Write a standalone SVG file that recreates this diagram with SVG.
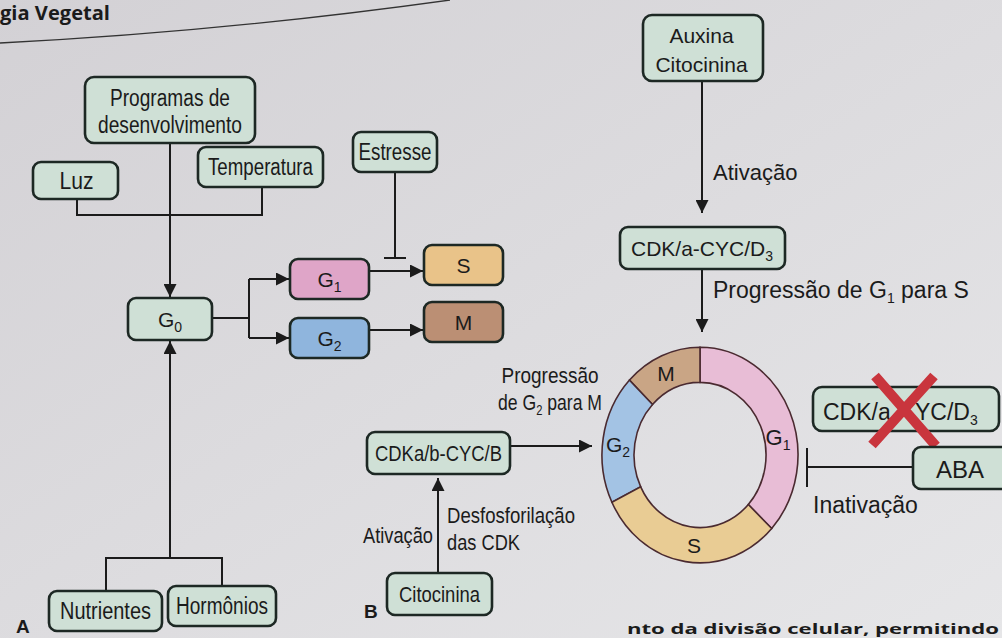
<svg xmlns="http://www.w3.org/2000/svg" width="1002" height="638" viewBox="0 0 1002 638">
<defs>
<linearGradient id="bgg" x1="0" y1="0" x2="1" y2="1">
<stop offset="0" stop-color="#d3d1d5"/>
<stop offset="1" stop-color="#e6e6e8"/>
</linearGradient>
<marker id="ah" viewBox="0 0 13 13" refX="13" refY="6.5" markerWidth="13" markerHeight="13" markerUnits="userSpaceOnUse" orient="auto">
<path d="M0,0 L13,6.5 L0,13 z" fill="#1b1b1b"/>
</marker>
<style>
text{font-family:"Liberation Sans",Arial,sans-serif;fill:#1b1b1b;font-size:21px}
.node rect{fill:#cfe0d6;stroke:#1d2824;stroke-width:2.6}
.mid{text-anchor:middle}
.sub{font-size:14px}
.c23{font-size:23px}
.c22{font-size:22px}
.r22{font-size:22px}
.r23{font-size:23px}
.bold{font-weight:bold}
#connectors path{fill:none;stroke:#1b1b1b;stroke-width:2}
.arr{marker-end:url(#ah)}
.seg{stroke:#4a2a30;stroke-width:1.6;vector-effect:non-scaling-stroke}
</style>
</defs>
<rect x="0" y="0" width="1002" height="638" fill="url(#bgg)"/>
<g id="header">
<text x="0" y="20" class="bold" style="font-family:'Open Sans',sans-serif;font-size:19px" textLength="110" lengthAdjust="spacingAndGlyphs">gia Vegetal</text>
<path d="M0,43 Q220,32 450,0" fill="none" stroke="#333" stroke-width="1.3"/>
</g>
<g id="connectors">
<path class="arr" d="M170,143 V297"/>
<path d="M77,199 V215 H262 V187"/>
<path d="M395,172 V258 M384,258 H406"/>
<path d="M212,318 H249 M249,279 V338"/>
<path class="arr" d="M249,279 H289"/>
<path class="arr" d="M249,338 H289"/>
<path class="arr" d="M369,271 H423"/>
<path class="arr" d="M369,330 H423"/>
<path d="M106,591 V558 H222 V586"/>
<path class="arr" d="M170,558 V341"/>
<path class="arr" d="M702,81 V213"/>
<path class="arr" d="M702,269 V332"/>
<path class="arr" d="M510,446 H592"/>
<path class="arr" d="M438,573 V478"/>
<path d="M913,467 H807 M807,448 V487"/>
</g>
<g id="prog" class="node"><rect x="85" y="77" width="170" height="66" rx="9"/><text x="170" y="106" class="mid c23" textLength="120" lengthAdjust="spacingAndGlyphs">Programas de</text><text x="170" y="133" class="mid c23" textLength="144" lengthAdjust="spacingAndGlyphs">desenvolvimento</text></g>
<g id="luz" class="node"><rect x="33" y="162" width="85" height="37" rx="8"/><text x="76.5" y="189" class="mid c23" textLength="34" lengthAdjust="spacingAndGlyphs">Luz</text></g>
<g id="temp" class="node"><rect x="198" y="147" width="125" height="40" rx="8"/><text x="260.5" y="175" class="mid c23" textLength="105" lengthAdjust="spacingAndGlyphs">Temperatura</text></g>
<g id="estresse" class="node"><rect x="353" y="132" width="84" height="40" rx="8"/><text x="395" y="160" class="mid c23" textLength="73" lengthAdjust="spacingAndGlyphs">Estresse</text></g>
<g id="g0" class="node"><rect x="128" y="298" width="84" height="42" rx="8"/><text x="170" y="327" class="mid">G<tspan class="sub" dy="5">0</tspan></text></g>
<g id="g1" class="node"><rect x="290" y="259" width="79" height="40" rx="8" style="fill:#dfa5c8"/><text x="329.5" y="287" class="mid">G<tspan class="sub" dy="5">1</tspan></text></g>
<g id="g2" class="node"><rect x="290" y="318" width="79" height="40" rx="8" style="fill:#8fb5dd"/><text x="329.5" y="346" class="mid">G<tspan class="sub" dy="5">2</tspan></text></g>
<g id="s" class="node"><rect x="424" y="245" width="79" height="40" rx="8" style="fill:#e9c389"/><text x="463.5" y="273" class="mid">S</text></g>
<g id="m" class="node"><rect x="424" y="302" width="79" height="40" rx="8" style="fill:#bb8f74"/><text x="463.5" y="330" class="mid">M</text></g>
<g id="nutrientes" class="node"><rect x="49" y="591" width="113" height="40" rx="8"/><text x="105.5" y="619" class="mid c23" textLength="91" lengthAdjust="spacingAndGlyphs">Nutrientes</text></g>
<g id="hormonios" class="node"><rect x="168" y="586" width="108" height="40" rx="8"/><text x="222" y="614" class="mid c23" textLength="92" lengthAdjust="spacingAndGlyphs">Hormônios</text></g>
<g id="auxina" class="node"><rect x="643" y="15" width="120" height="66" rx="9"/><text x="701.5" y="43" class="mid">Auxina</text><text x="701.5" y="72" class="mid">Citocinina</text></g>
<g id="cdkd3" class="node"><rect x="620" y="227" width="165" height="42" rx="8"/><text x="702" y="256" class="mid">CDK/a-CYC/D<tspan class="sub" dy="5">3</tspan></text></g>
<g id="cdkb" class="node"><rect x="367" y="432" width="143" height="42" rx="8"/><text x="438.5" y="461" class="mid c22" textLength="127" lengthAdjust="spacingAndGlyphs">CDKa/b-CYC/B</text></g>
<g id="citocinina" class="node"><rect x="387" y="573" width="105" height="42" rx="8"/><text x="439.5" y="602" class="mid c22" textLength="81" lengthAdjust="spacingAndGlyphs">Citocinina</text></g>
<g id="cdkd3x" class="node"><rect x="813" y="387" width="186" height="44" rx="9"/><text x="823" y="420" class="r23">CDK/a</text><text x="915" y="420" class="r23">YC/D<tspan class="sub" dy="5">3</tspan></text>
<path d="M875,376 L936,446 M934,376 L872,445" stroke="#c9353d" stroke-width="10" fill="none"/></g>
<g id="aba" class="node"><rect x="913" y="447" width="100" height="42" rx="8"/><text x="960" y="478" class="mid" style="font-size:24px">ABA</text></g>
<g id="cycle">
<g transform="translate(700,455) scale(1,1.1)">
<path class="seg" fill="#e8bdd6" d="M71.7,66.8 A98,98 0 0 0 0,-98 L0,-66 A66,66 0 0 1 48.3,45 Z"/>
<path class="seg" fill="#c9a585" d="M0,-98 A98,98 0 0 0 -70.5,-68.1 L-47.5,-45.85 A66,66 0 0 1 0,-66 Z"/>
<path class="seg" fill="#a3c3e4" d="M-70.5,-68.1 A98,98 0 0 0 -88.1,42.96 L-59.3,28.93 A66,66 0 0 1 -47.5,-45.85 Z"/>
<path class="seg" fill="#e9cc94" d="M-88.1,42.96 A98,98 0 0 0 71.7,66.8 L48.3,45 A66,66 0 0 1 -59.3,28.93 Z"/>
</g>
<text x="666" y="381" class="mid">M</text>
<text x="618" y="452" class="mid">G<tspan class="sub" dy="5">2</tspan></text>
<text x="778" y="445" class="mid r22">G<tspan class="sub" dy="5">1</tspan></text>
<text x="694" y="553" class="mid">S</text>
</g>
<g id="labels">
<text x="713" y="180" class="r22">Ativação</text>
<text x="713" y="298" class="r23">Progressão de G<tspan class="sub" dy="5">1</tspan><tspan dy="-5"> para S</tspan></text>
<text x="550" y="383" class="mid c22" textLength="97" lengthAdjust="spacingAndGlyphs">Progressão</text>
<text transform="translate(550,410) scale(0.8,1)" class="mid c22">de G<tspan class="sub" dy="5">2</tspan><tspan dy="-5"> para M</tspan></text>
<text x="363" y="543" class="c22" textLength="70" lengthAdjust="spacingAndGlyphs">Ativação</text>
<text x="447" y="523" class="c22" textLength="128" lengthAdjust="spacingAndGlyphs">Desfosforilação</text>
<text x="447" y="550" class="c22" textLength="73" lengthAdjust="spacingAndGlyphs">das CDK</text>
<text x="813" y="513" class="r23">Inativação</text>
<text x="16" y="633" class="bold" style="font-size:19px">A</text>
<text x="364" y="618" class="bold" style="font-size:19px">B</text>
<text x="627" y="634" class="bold" style="font-family:'Open Sans',sans-serif;font-size:14px" textLength="372" lengthAdjust="spacingAndGlyphs">nto da divisão celular, permitindo</text>
</g>
</svg>
